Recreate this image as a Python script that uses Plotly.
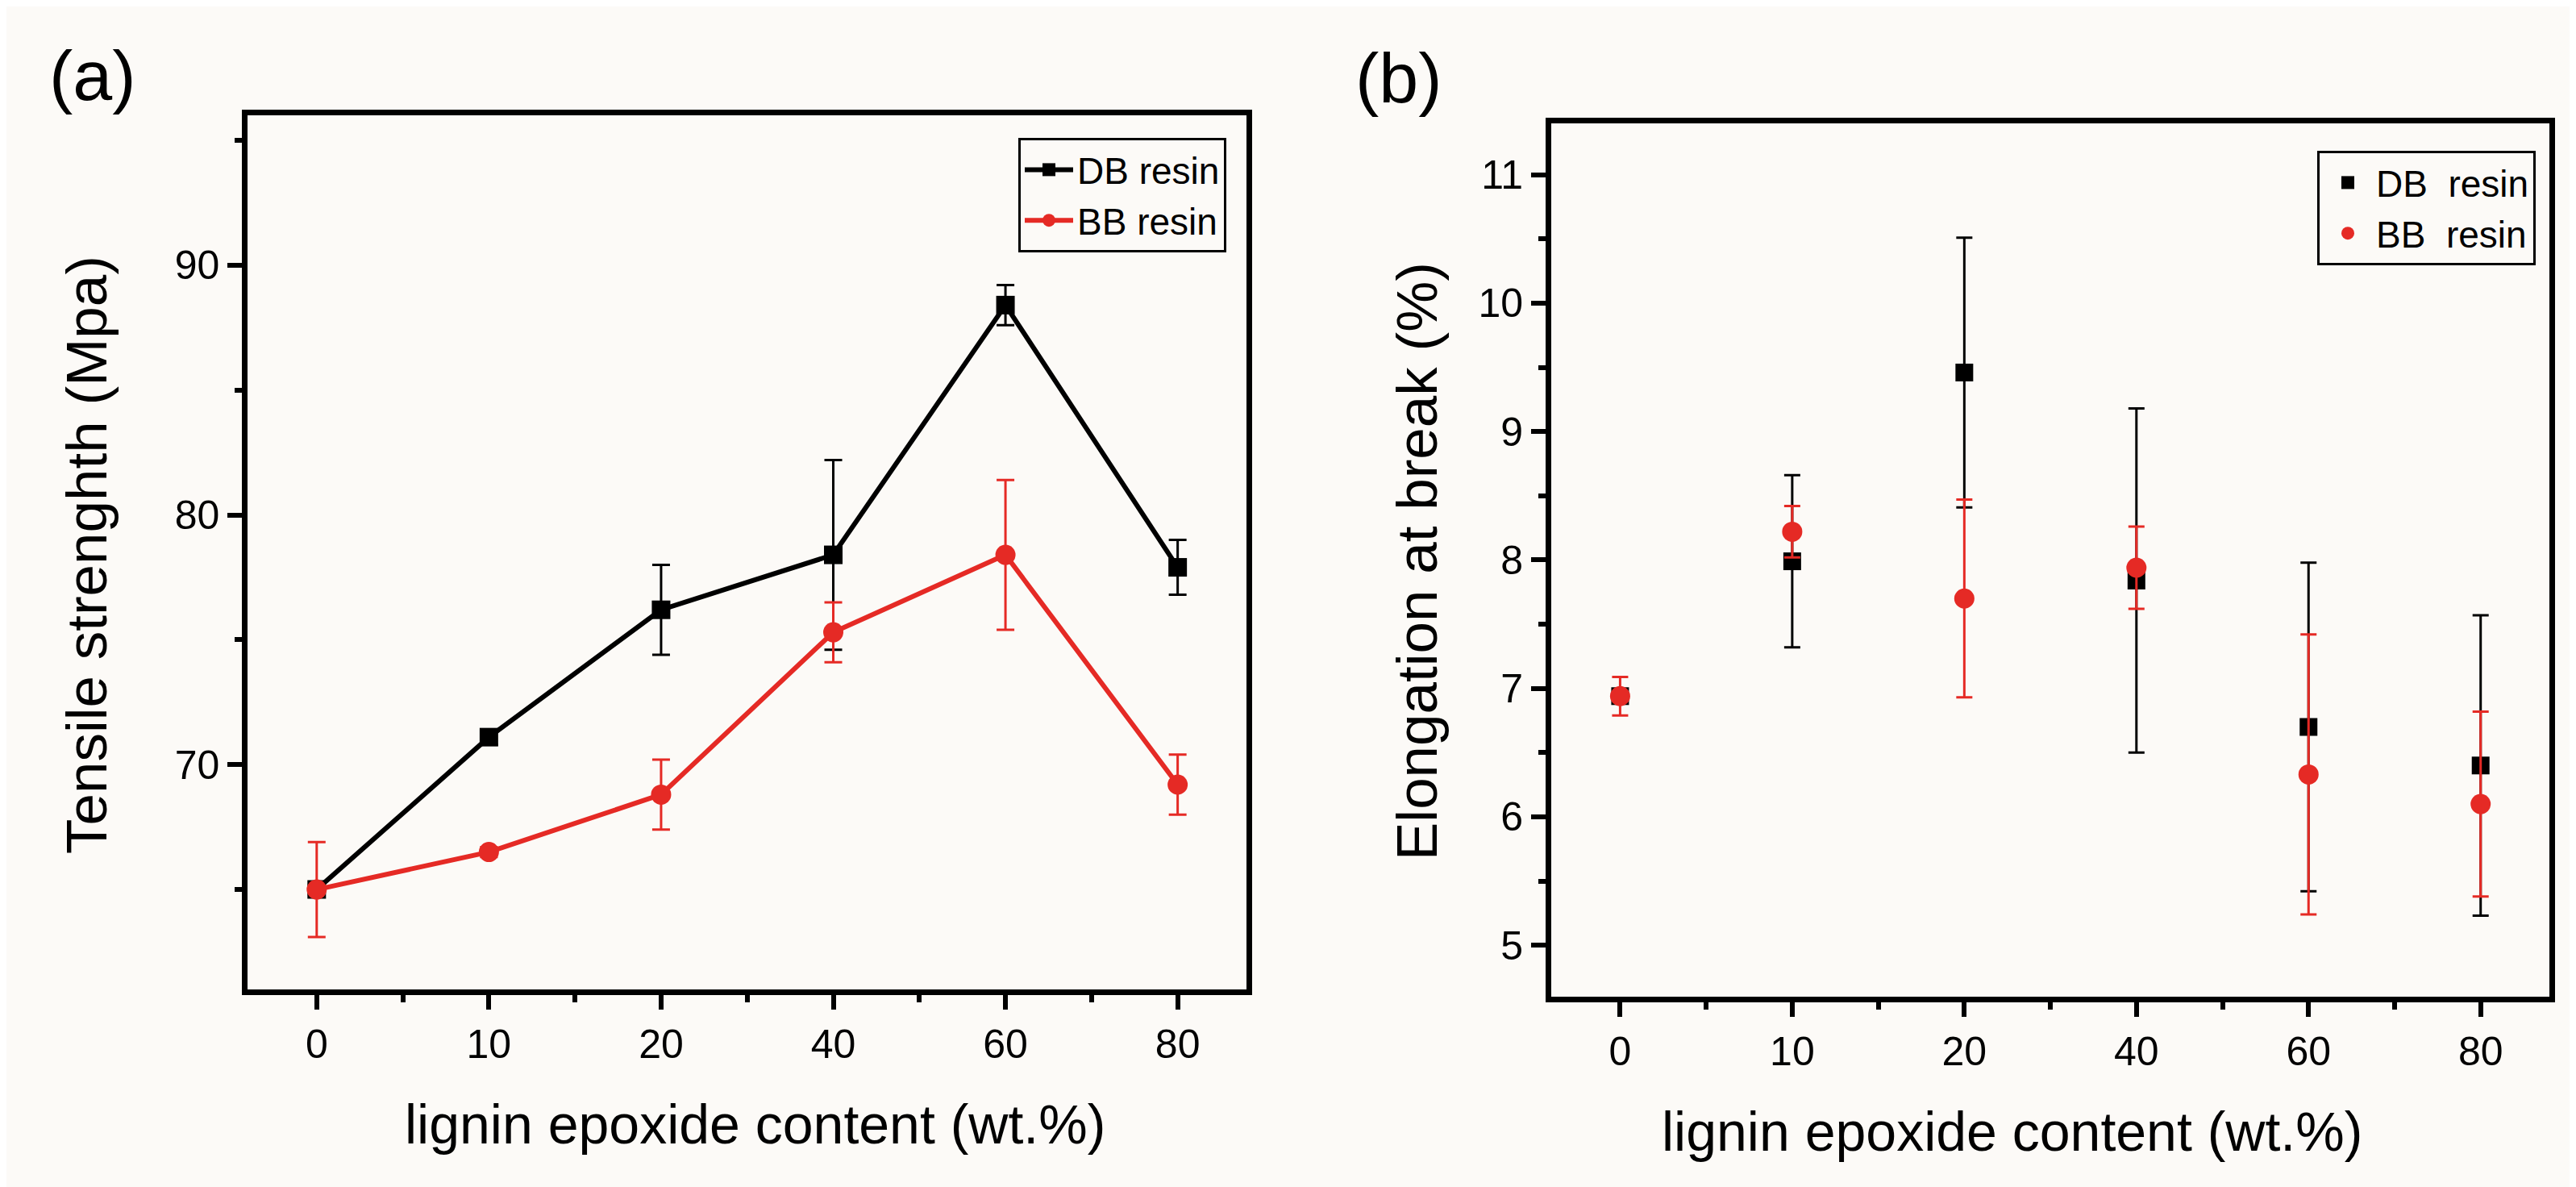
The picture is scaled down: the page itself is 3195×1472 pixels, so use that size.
import plotly.graph_objects as go
from plotly.subplots import make_subplots

# lignin epoxide content categories (wt.%)
contents = ["0", "10", "20", "40", "60", "80"]
pos = list(range(len(contents)))

# (a) tensile strength, MPa
tensile_db = [65.0, 71.1, 76.2, 78.4, 88.4, 77.9]
tensile_db_err = [0.2, 0.3, 1.8, 3.8, 0.8, 1.1]
tensile_bb = [65.0, 66.5, 68.8, 75.3, 78.4, 69.2]
tensile_bb_err = [1.9, 0.2, 1.4, 1.2, 3.0, 1.2]

# (b) elongation at break, %
elong_db = [6.94, 7.99, 9.46, 7.84, 6.70, 6.40]
elong_db_err = [0.05, 0.67, 1.05, 1.34, 1.28, 1.17]
elong_bb = [6.94, 8.22, 7.70, 7.94, 6.33, 6.10]
elong_bb_err = [0.15, 0.20, 0.77, 0.32, 1.09, 0.72]

W, H = 3195, 1472
RED = "#e52a25"
BG = "#fcfaf7"
FONT = "Arial, Liberation Sans, sans-serif"

fig = make_subplots(rows=1, cols=2)

fig.add_trace(go.Scatter(
    x=pos, y=tensile_db, name="DB resin", mode="lines+markers",
    line=dict(color="black", width=6),
    marker=dict(symbol="square", size=23, color="black"),
    error_y=dict(type="data", array=tensile_db_err, color="black", thickness=3, width=11),
    legend="legend",
), row=1, col=1)
fig.add_trace(go.Scatter(
    x=pos, y=tensile_bb, name="BB resin", mode="lines+markers",
    line=dict(color=RED, width=6),
    marker=dict(symbol="circle", size=25, color=RED),
    error_y=dict(type="data", array=tensile_bb_err, color=RED, thickness=3, width=11),
    legend="legend",
), row=1, col=1)

fig.add_trace(go.Scatter(
    x=pos, y=elong_db, name="DB\u00a0\u00a0resin", mode="markers",
    marker=dict(symbol="square", size=22, color="black"),
    error_y=dict(type="data", array=elong_db_err, color="black", thickness=3, width=10),
    legend="legend2",
), row=1, col=2)
fig.add_trace(go.Scatter(
    x=pos, y=elong_bb, name="BB\u00a0\u00a0resin", mode="markers",
    marker=dict(symbol="circle", size=25, color=RED),
    error_y=dict(type="data", array=elong_bb_err, color=RED, thickness=3, width=10),
    legend="legend2",
), row=1, col=2)

axis_common = dict(
    showline=True, linecolor="black", linewidth=7, mirror=True,
    ticks="outside", ticklen=18, tickwidth=6, tickcolor="black",
    showgrid=False, zeroline=False,
    tickfont=dict(family=FONT, size=50, color="black"),
)
xaxis_common = dict(
    axis_common, tickmode="array", tickvals=pos, ticktext=contents, range=[-0.4, 5.4],
    minor=dict(ticks="outside", tick0=0.5, dtick=1, ticklen=9, tickwidth=6, tickcolor="black"),
)

fig.update_xaxes(xaxis_common, domain=[0.0937, 0.4814], row=1, col=1)
fig.update_xaxes(xaxis_common, domain=[0.5997, 0.9872], row=1, col=2)
fig.update_yaxes(axis_common, domain=[0.1719, 0.9083], range=[61, 96], dtick=10, tick0=0,
                 minor=dict(ticks="outside", dtick=5, ticklen=9, tickwidth=6, tickcolor="black"),
                 row=1, col=1)
fig.update_yaxes(axis_common, domain=[0.1658, 0.9015], range=[4.6, 11.4], dtick=1, tick0=0,
                 minor=dict(ticks="outside", dtick=0.5, ticklen=9, tickwidth=6, tickcolor="black"),
                 row=1, col=2)

legend_common = dict(
    xanchor="right", yanchor="top", bgcolor=BG, bordercolor="black", borderwidth=3,
    font=dict(family=FONT, size=46, color="black"), itemwidth=60, tracegroupgap=0,
)

texts = [
    dict(text="(a)", x=107, y=85, size=88, angle=0),
    dict(text="(b)", x=1727, y=88, size=88, angle=0),
    dict(text="Tensile strenghth (Mpa)", x=100, y=680, size=71, angle=-90),
    dict(text="Elongation at break (%)", x=1749, y=688, size=71, angle=-90),
    dict(text="lignin epoxide content (wt.%)", x=928, y=1386, size=68, angle=0),
    dict(text="lignin epoxide content (wt.%)", x=2487, y=1395, size=68, angle=0),
]
annotations = [
    dict(text=t["text"], x=t["x"] / W, y=1 - t["y"] / H, xref="paper", yref="paper",
         xanchor="center", yanchor="middle", showarrow=False, textangle=t["angle"],
         font=dict(family=FONT, size=t["size"], color="black"))
    for t in texts
]

fig.update_layout(
    width=W, height=H,
    margin=dict(l=0, r=0, t=0, b=0),
    paper_bgcolor=BG, plot_bgcolor=BG,
    legend=dict(legend_common, x=1513 / W, y=1 - 163 / H),
    legend2=dict(legend_common, x=3137 / W, y=1 - 179 / H),
    annotations=annotations,
)

fig.write_html("out.html")
